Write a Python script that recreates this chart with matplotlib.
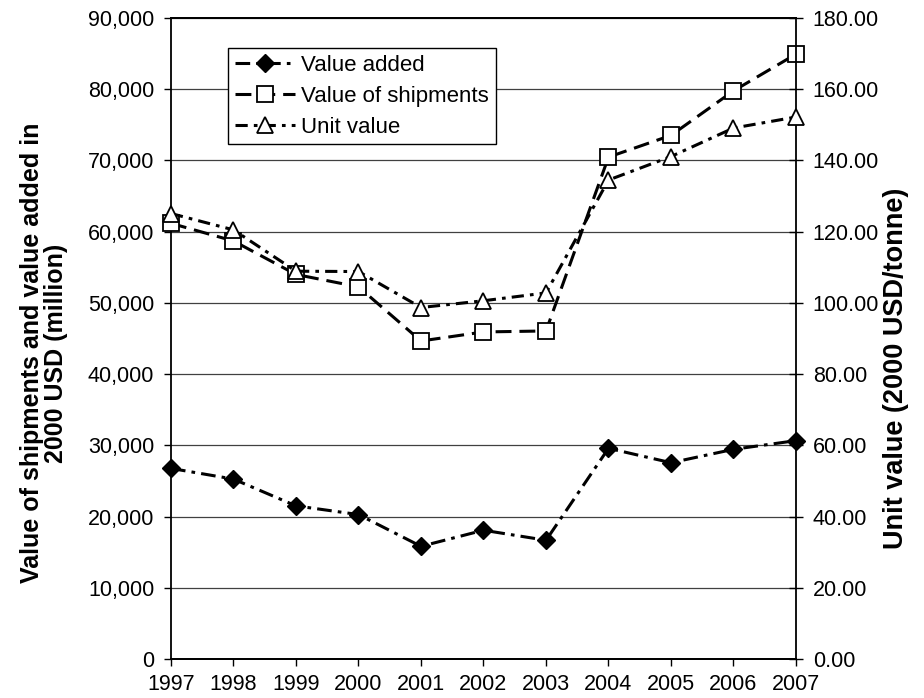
"""Shipments, value added and unit value, 1997-2007."""

import matplotlib

matplotlib.use("Agg")
import matplotlib.pyplot as plt  # noqa: E402
from matplotlib.ticker import FuncFormatter, MultipleLocator  # noqa: E402

plt.rcParams["font.family"] = ["Liberation Sans", "DejaVu Sans"]

years = [1997, 1998, 1999, 2000, 2001, 2002, 2003, 2004, 2005, 2006, 2007]
value_added = [26760, 25260, 21500, 20280, 15820, 18080, 16670, 29580, 27560, 29440, 30660]
shipments = [61170, 58690, 53990, 52250, 44650, 45920, 46060, 70470, 73520, 79770, 84930]
unit_value = [125.1, 120.5, 108.9, 108.8, 98.7, 100.6, 102.8, 134.5, 141.1, 149.1, 152.2]

FS = 15.5

fig = plt.figure(figsize=(9.24, 6.98), dpi=100)
ax = fig.add_axes([171 / 924, 39 / 698, 625 / 924, 641 / 698])
ax2 = ax.twinx()

lw = 2.2
l1, = ax.plot(years, value_added, color="black", lw=lw, dashes=(4.8, 2.0, 1.2, 2.0),
              marker="D", ms=9, mfc="black", mec="black", label="Value added",
              zorder=3, clip_on=False)
l2, = ax.plot(years, shipments, color="black", lw=lw, dashes=(5.2, 2.6),
              marker="s", ms=11, mfc="white", mec="black", mew=1.3,
              label="Value of shipments", zorder=3, clip_on=False)
l3, = ax2.plot(years, unit_value, color="black", lw=lw, dashes=(4.0, 2.0, 1.2, 2.0),
               marker="^", ms=12, mfc="white", mec="black", mew=1.3,
               label="Unit value", zorder=3, clip_on=False)

ax.set_xlim(1997, 2007)
ax.set_ylim(0, 90000)
ax2.set_ylim(0, 180)
ax.yaxis.set_major_locator(MultipleLocator(10000))
ax2.yaxis.set_major_locator(MultipleLocator(20))
ax.yaxis.set_major_formatter(FuncFormatter(lambda v, p: f"{v:,.0f}"))
ax2.yaxis.set_major_formatter(FuncFormatter(lambda v, p: f"{v:.2f}"))
ax.set_xticks(years)
ax.set_xticklabels([str(y) for y in years])

ax.grid(axis="y", color="#404040", lw=0.9)
ax.set_axisbelow(True)
for a in (ax, ax2):
    for s in a.spines.values():
        s.set_linewidth(1.3)
        s.set_color("black")
ax.tick_params(axis="y", direction="out", length=5, width=1.0, labelsize=FS, pad=7)
ax.tick_params(axis="x", direction="out", length=5, width=1.0, labelsize=FS, pad=6)
ax2.tick_params(axis="y", direction="inout", length=10, width=1.0, labelsize=FS, pad=7)

ax.spines["right"].set_visible(False)
ax2.spines["left"].set_visible(False)

fig.text(44 / 924, 345 / 698,
         "Value of shipments and value added in\n2000 USD (million)",
         rotation=90, ha="center", va="center", fontsize=18, fontweight="bold",
         multialignment="center", linespacing=1.05)
fig.text(896 / 924, (698 - 368) / 698, "Unit value (2000 USD/tonne)",
         rotation=90, ha="center", va="center", fontsize=19.5, fontweight="bold")

leg = ax.legend(handles=[l1, l2, l3], loc="upper left",
                bbox_to_anchor=((228 - 171) / 625, (659 - 48) / 641),
                borderaxespad=0, fontsize=16, handlelength=2.7, handletextpad=0.3,
                labelspacing=0.45, borderpad=0.3, fancybox=False, framealpha=1,
                edgecolor="black")
leg.get_frame().set_linewidth(1.0)
leg.set_zorder(5)

fig.savefig("out.png", dpi=100)
